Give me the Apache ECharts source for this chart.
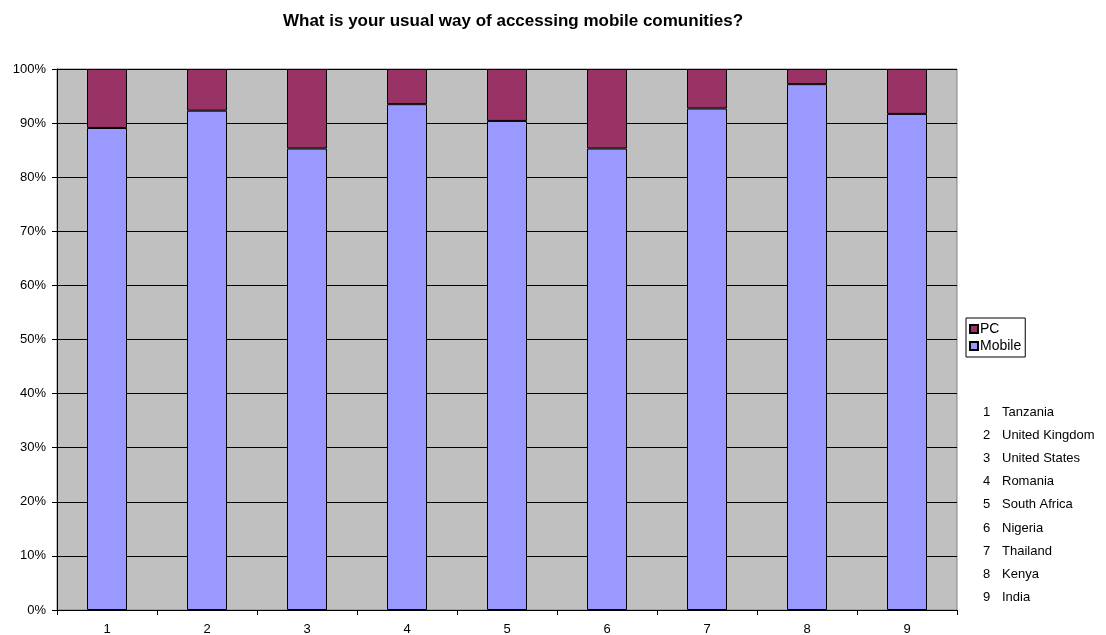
<!DOCTYPE html>
<html><head><meta charset="utf-8">
<script src="https://cdn.jsdelivr.net/npm/echarts@6/dist/echarts.min.js"></script>
<style>html,body{margin:0;padding:0;background:#fff}#c{width:1106px;height:635px}</style>
</head><body><div id="c"></div>
<script>
const categories = ['1','2','3','4','5','6','7','8','9'];
const countries = ['Tanzania','United Kingdom','United States','Romania','South Africa','Nigeria','Thailand','Kenya','India'];
const mobile = [89.1, 92.3, 85.3, 93.5, 90.4, 85.3, 92.7, 97.2, 91.7];
const pc = mobile.map(v => +(100 - v).toFixed(1));

const font = '"Liberation Sans", Arial, sans-serif';
const chart = echarts.init(document.getElementById('c'));
const graphics = [];
countries.forEach((name, i) => {
  graphics.push({type:'text', left: 983, top: 406 + i*23.1, style:{text: categories[i], font: '13px ' + font, fill:'#000'}});
  graphics.push({type:'text', left: 1002, top: 406 + i*23.1, style:{text: name, font: '13px ' + font, fill:'#000'}});
});
chart.setOption({
  animation: false,
  textStyle: {fontFamily: font},
  title: {text: 'What is your usual way of accessing mobile comunities?', left: 508, top: 8, textAlign: 'center',
    textStyle: {fontSize: 17, fontWeight: 'bold', color: '#000', fontFamily: font}},
  grid: {left: 57, right: 149, top: 69, bottom: 25, show: true, backgroundColor: '#C0C0C0', borderColor: '#808080', borderWidth: 1,
    outerBoundsMode: 'none', containLabel: false},
  legend: {data: ['PC','Mobile'], orient: 'vertical', left: 966, top: 318, itemWidth: 8, itemHeight: 8, itemGap: 3,
    padding: [4, 4, 4, 3], borderColor: '#000', borderWidth: 1, icon: 'rect',
    textStyle: {fontSize: 14, color: '#000', padding: [0,0,0,-3]}},
  xAxis: {type: 'category', data: categories, boundaryGap: true,
    axisLine: {lineStyle: {color: '#000'}}, axisTick: {show: true, length: 5, lineStyle:{color:'#000'}},
    axisLabel: {color: '#000', fontSize: 13, margin: 13}},
  yAxis: {type: 'value', min: 0, max: 100, interval: 10,
    axisLine: {show: true, lineStyle: {color: '#000'}}, axisTick: {show: true, length: 5, lineStyle:{color:'#000'}},
    axisLabel: {formatter: '{value}%', color: '#000', fontSize: 13, margin: 11},
    splitLine: {lineStyle: {color: '#000', width: 1}}},
  graphic: graphics,
  series: [
    {name: 'Mobile', type: 'bar', stack: 's', data: mobile, barWidth: 40,
     itemStyle: {color: '#9999FF', borderColor: '#000', borderWidth: 1}},
    {name: 'PC', type: 'bar', stack: 's', data: pc, barWidth: 40,
     itemStyle: {color: '#993366', borderColor: '#000', borderWidth: 1}}
  ]
});
</script></body></html>
